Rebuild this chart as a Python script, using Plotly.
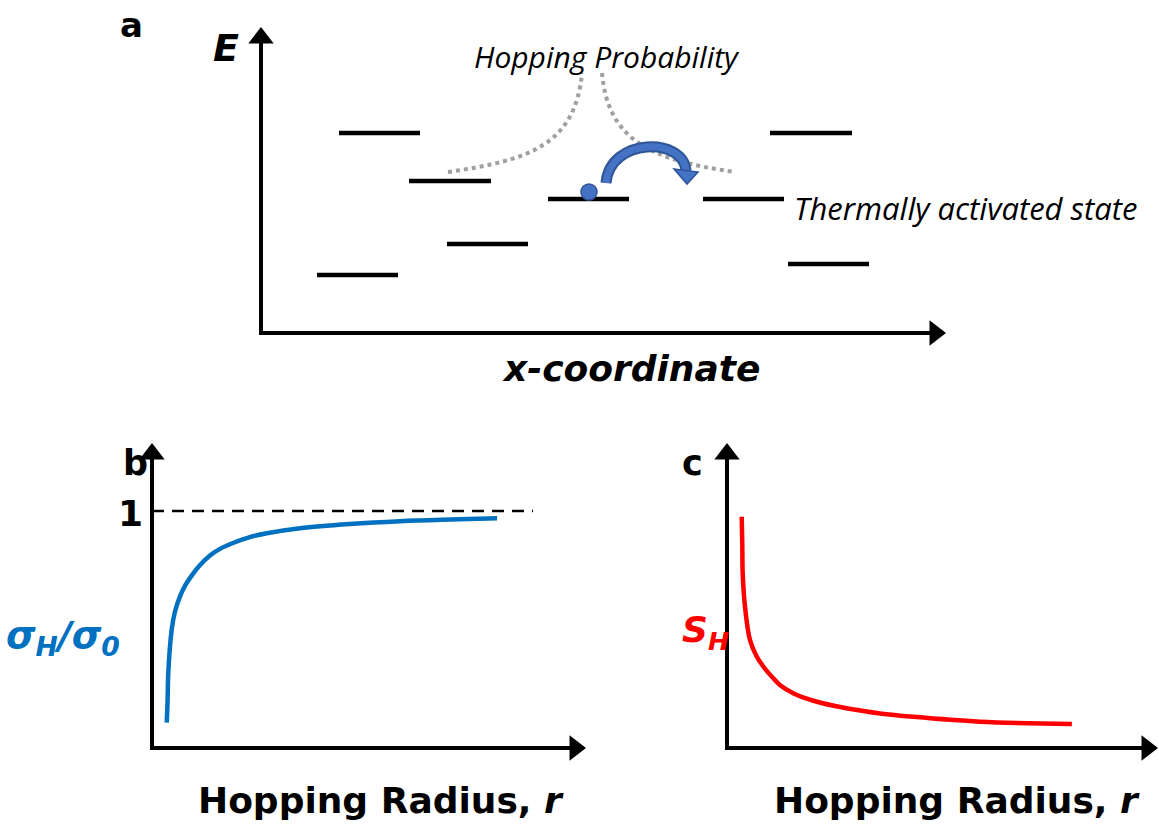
import plotly.graph_objects as go

W, H = 1159, 827

# ---------- Panel a: energy levels (x-start, x-end, energy level position) ----------
level_x0 = [339, 409, 548, 447, 317, 770, 703, 788]
level_x1 = [420, 491, 629, 528, 398, 852, 784, 869]
level_E = [133, 181, 199, 244, 275, 133, 199, 264]

# ---------- Panel b: sigma_H / sigma_0 vs hopping radius ----------
r_b = [0.34, 0.36, 0.376, 0.455, 0.53, 0.647, 0.78, 0.954, 1.1, 1.339, 1.55, 1.87, 2.26,
       2.656, 3.418, 4.57, 5.73, 6.88, 7.97]
sigma_ratio = [0.107, 0.20, 0.316, 0.50, 0.575, 0.64, 0.69, 0.737, 0.77, 0.812, 0.838, 0.865, 0.89,
               0.906, 0.927, 0.945, 0.957, 0.964, 0.969]

# ---------- Panel c: S_H vs hopping radius ----------
r_c = [0.342, 0.356, 0.365, 0.419, 0.535, 0.691, 0.844, 1.04, 1.23, 1.54, 2.01, 2.78, 3.56,
       4.33, 5.88, 8.02]
S_H = [7.63, 6.70, 5.77, 4.66, 3.56, 3.02, 2.69, 2.36, 2.08, 1.81, 1.56, 1.31, 1.14,
       1.03, 0.87, 0.79]

FONT = "Open Sans"
BFONT = "DejaVu Sans"

fig = go.Figure()

# energy levels
lx, ly = [], []
for a, b, e in zip(level_x0, level_x1, level_E):
    lx += [a, b, None]
    ly += [e, e, None]
fig.add_trace(go.Scatter(x=lx, y=ly, mode="lines", line=dict(color="black", width=4.5),
                         xaxis="x", yaxis="y", hoverinfo="skip", showlegend=False))

# axis lines with arrowheads (pixel frame)
axes_lines = [
    ((261, 335), (261, 40), "triangle-up", (261, 38)),
    ((259, 333), (934, 333), "triangle-right", (935, 333)),
    ((152, 750), (152, 456), "triangle-up", (152, 454)),
    ((150, 748), (574, 748), "triangle-right", (575, 748)),
    ((727, 750), (727, 456), "triangle-up", (727, 454)),
    ((725, 748), (1146, 748), "triangle-right", (1147, 748)),
]
for (x0, y0), (x1, y1), sym, (mx, my) in axes_lines:
    fig.add_trace(go.Scatter(x=[x0, x1], y=[y0, y1], mode="lines",
                             line=dict(color="black", width=4),
                             xaxis="x", yaxis="y", hoverinfo="skip", showlegend=False))
    fig.add_trace(go.Scatter(x=[mx], y=[my], mode="markers",
                             marker=dict(symbol=sym, size=22, color="black", line=dict(width=0)),
                             xaxis="x", yaxis="y", hoverinfo="skip", showlegend=False))

# panel b curve
fig.add_trace(go.Scatter(x=r_b, y=sigma_ratio, mode="lines",
                         line=dict(color="#0070C0", width=4.5, shape="spline", smoothing=1.0),
                         xaxis="x2", yaxis="y2", hoverinfo="skip", showlegend=False))
# dashed line at 1
fig.add_trace(go.Scatter(x=[0, 8.8], y=[1, 1], mode="lines",
                         line=dict(color="black", width=2.5, dash="12px,8px"),
                         xaxis="x2", yaxis="y2", hoverinfo="skip", showlegend=False))
# panel c curve
fig.add_trace(go.Scatter(x=r_c, y=S_H, mode="lines",
                         line=dict(color="#FF0000", width=4.5, shape="spline", smoothing=1.0),
                         xaxis="x3", yaxis="y3", hoverinfo="skip", showlegend=False))

shapes = []
# dotted hopping-probability curves
shapes.append(dict(type="path", xref="x", yref="y",
                   path="M448,172 C530,160 575,145 582,73",
                   line=dict(color="#A0A0A0", width=4, dash="4px,4px")))
shapes.append(dict(type="path", xref="x", yref="y",
                   path="M602,73 C608,140 650,160 735,172",
                   line=dict(color="#A0A0A0", width=4, dash="4px,4px")))
# blue hop arrow
arc = "M606,183 C610,137 684,137 686,171"
shapes.append(dict(type="path", xref="x", yref="y", path=arc,
                   line=dict(color="#2F5597", width=11)))
shapes.append(dict(type="path", xref="x", yref="y", path=arc,
                   line=dict(color="#4472C4", width=7)))
shapes.append(dict(type="path", xref="x", yref="y",
                   path="M674,169 L698,172 L687,184 Z",
                   fillcolor="#4472C4", line=dict(color="#2F5597", width=1.5)))
# electron ball
shapes.append(dict(type="circle", xref="x", yref="y", x0=581, x1=597, y0=184, y1=200,
                   fillcolor="#4472C4", line=dict(color="#2F5597", width=1.5)))

annotations = []

def text(x, y, s, size, color="black", xanchor="center", family=BFONT):
    annotations.append(dict(x=x, y=y, xref="x", yref="y", text=s, showarrow=False,
                            xanchor=xanchor, yanchor="middle",
                            font=dict(family=family, size=size, color=color)))

text(131, 25, "<b>a</b>", 34)
text(226, 48, "<b><i>E</i></b>", 38)
text(607, 56, "<i>Hopping Probability</i>", 30, family=FONT)
text(792, 208, "<i>Thermally activated state</i>", 31, xanchor="left", family=FONT)
text(631, 368, "<b><i>x-coordinate</i></b>", 36)
text(135, 463, "<b>b</b>", 35)
text(130, 513, "<b>1</b>", 36)
text(63, 637, "<b><i>σ<sub>H</sub>/σ<sub>0</sub></i></b>", 38, color="#0070C0")
text(381, 800, "<b>Hopping Radius, <i>r</i></b>", 36)
text(692, 463, "<b>c</b>", 35)
text(705, 632, "<b><i>S<sub>H</sub></i></b>", 36, color="#FF0000")
text(957, 800, "<b>Hopping Radius, <i>r</i></b>", 36)

hidden = dict(visible=False, showgrid=False, zeroline=False, fixedrange=True)

# panel b/c plotting frames (pixels): x 152..585 / 727..1157, y 748..445 ; 1 at y=511
bx0, bx1, by0, by1 = 152, 585, 748, 445
cx0, cx1 = 727, 1157

fig.update_layout(
    width=W, height=H, margin=dict(l=0, r=0, t=0, b=0),
    paper_bgcolor="white", plot_bgcolor="rgba(0,0,0,0)",
    xaxis=dict(range=[0, W], domain=[0, 1], **hidden),
    yaxis=dict(range=[H, 0], domain=[0, 1], **hidden),
    xaxis2=dict(range=[0, 10], domain=[bx0 / W, bx1 / W], anchor="y2", **hidden),
    yaxis2=dict(range=[0, (by0 - by1) / (by0 - 511)], domain=[1 - by0 / H, 1 - by1 / H], anchor="x2", **hidden),
    xaxis3=dict(range=[0, 10], domain=[cx0 / W, cx1 / W], anchor="y3", **hidden),
    yaxis3=dict(range=[0, 10], domain=[1 - by0 / H, 1 - by1 / H], anchor="x3", **hidden),
    shapes=shapes, annotations=annotations, showlegend=False,
)

fig.write_html("out.html")
